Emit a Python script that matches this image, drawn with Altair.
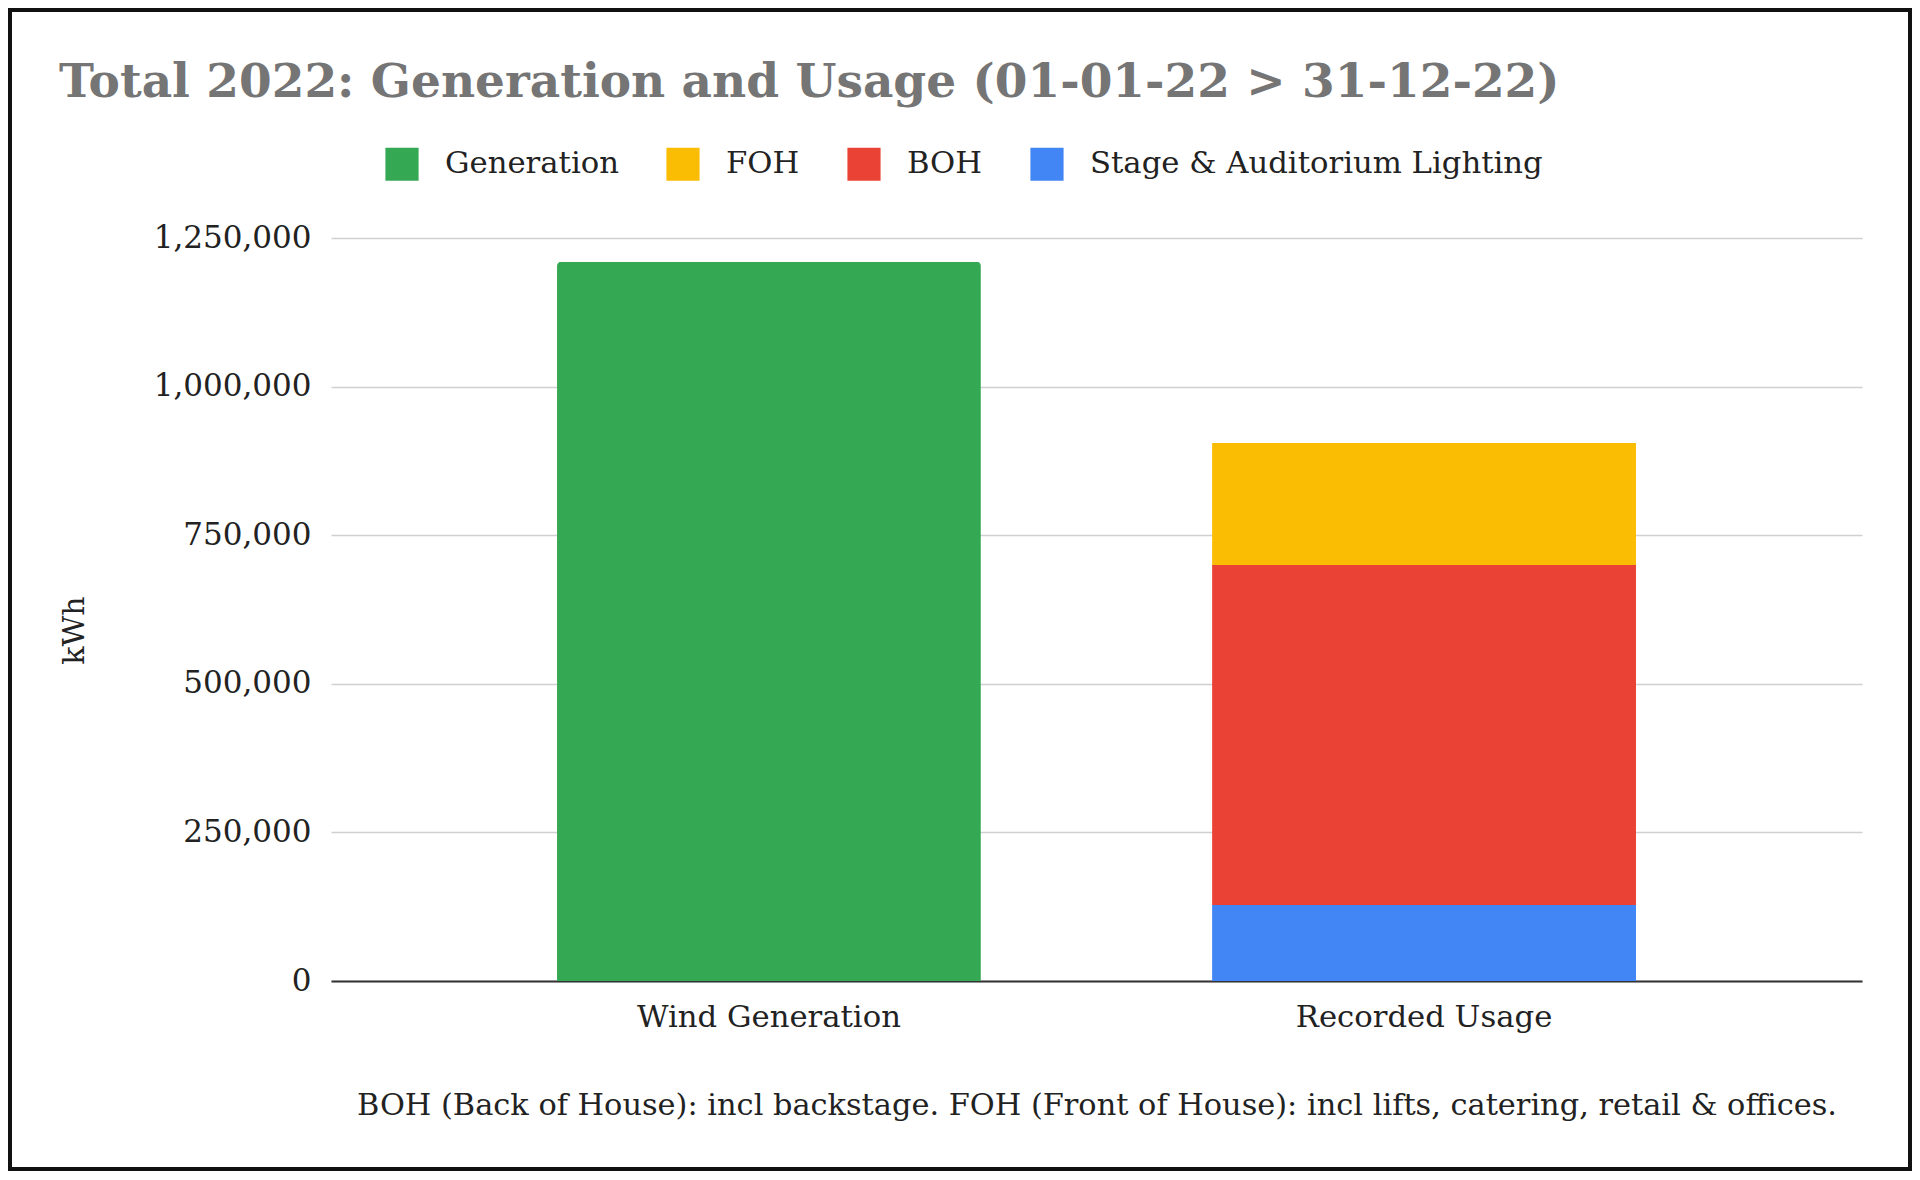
import altair as alt
import pandas as pd

categories = ["Wind Generation", "Recorded Usage"]
series = ["Generation", "FOH", "BOH", "Stage & Auditorium Lighting"]
colors = ["#34A853", "#FBBC04", "#EA4335", "#4285F4"]
generation = [1210000, 0]
foh = [0, 205000]
boh = [0, 572000]
stage = [0, 128000]
y_ticks = [0, 250000, 500000, 750000, 1000000, 1250000]

title_text = "Total 2022: Generation and Usage (01-01-22 > 31-12-22)"
footnote = "BOH (Back of House): incl backstage. FOH (Front of House): incl lifts, catering, retail & offices."

rows = []
for si, (name, vals) in enumerate(zip(series, [generation, foh, boh, stage])):
    for cat, v in zip(categories, vals):
        if v > 0:
            rows.append({"category": cat, "series": name, "value": v, "idx": si})
df = pd.DataFrame(rows)

FONT = "DejaVu Serif"
W, H = 1531, 743
PAD = {"left": 323, "top": 230, "right": 50, "bottom": 190}

base = alt.Chart(df).encode(
    x=alt.X("category:N", sort=categories,
            scale=alt.Scale(paddingInner=0.353, paddingOuter=0.345),
            axis=alt.Axis(title=footnote, labelAngle=0, ticks=False, tickSize=0,
                          labelPadding=45, labelBaseline="alphabetic", labelLimit=0,
                          labelFontSize=30.7, labelColor="#222222", labelFont=FONT,
                          domainColor="#333333", domainWidth=2,
                          titleFont=FONT, titleFontSize=30.4, titleFontWeight="normal",
                          titleColor="#222222", titleY=133, titleBaseline="alphabetic",
                          titleLimit=0)),
    y=alt.Y("value:Q", stack="zero",
            scale=alt.Scale(domain=[0, 1250000], nice=False),
            axis=alt.Axis(title="kWh", values=y_ticks, format=",.0f", ticks=False, tickSize=0,
                          domain=False, labelPadding=20, labelFontSize=31, labelLimit=0,
                          labelColor="#222222", labelFont=FONT,
                          gridColor="#d0d0d0", gridWidth=1.5,
                          titleFont=FONT, titleFontSize=30, titleFontWeight="normal",
                          titleColor="#222222", titleX=-257, titleY=392,
                          titleBaseline="middle", titleAngle=-90)),
    color=alt.Color("series:N", scale=alt.Scale(domain=series, range=colors),
                    legend=alt.Legend(title=None, orient="none", legendX=54, legendY=-91,
                                      direction="horizontal", columns=4,
                                      symbolType="square", symbolSize=1100,
                                      symbolStrokeWidth=0, labelFont=FONT,
                                      labelFontSize=30.7, labelColor="#222222",
                                      labelLimit=0, labelOffset=26, columnPadding=47)),
    order=alt.Order("idx:Q", sort="descending"),
)

gen_layer = base.transform_filter(alt.datum.series == "Generation").mark_bar(
    cornerRadiusTopLeft=4, cornerRadiusTopRight=4)
use_layer = base.transform_filter(alt.datum.series != "Generation").mark_bar()

# decorative outer frame around the whole picture
frame = alt.Chart(pd.DataFrame({"f": [0]})).mark_rect(
    fill=None, stroke="#111111", strokeWidth=4, clip=False
).encode(
    x=alt.value(-PAD["left"] + 2), x2=alt.value(W + PAD["right"] - 2),
    y=alt.value(-PAD["top"] + 2), y2=alt.value(H + PAD["bottom"] - 2),
)

chart = alt.layer(gen_layer, use_layer, frame).properties(
    width=W, height=H,
    autosize=alt.AutoSizeParams(type="none"),
    padding=PAD,
    title=alt.TitleParams(title_text, anchor="start", frame="group", dx=-272, dy=141,
                          font=FONT, fontSize=47, fontWeight="bold",
                          color="#757575", offset=42),
).configure(background="white", view=alt.ViewConfig(stroke=None))

chart.save("out.html", embed_options={"renderer": "svg", "actions": False})
